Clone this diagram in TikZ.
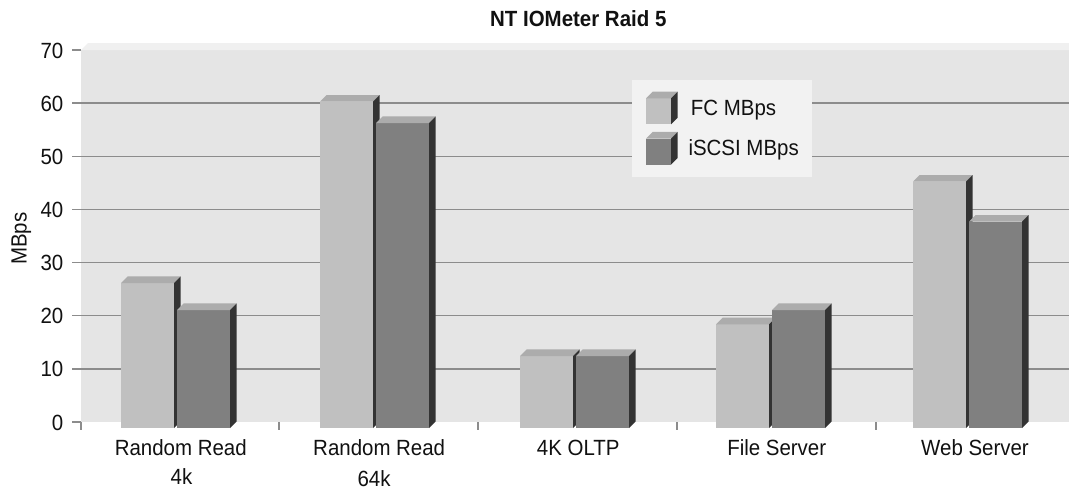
\documentclass[tikz,border=0pt]{standalone}
\usepackage{fontspec}
\setmainfont[FakeStretch=0.93]{Liberation Sans}
\definecolor{wallc}{HTML}{E5E5E5}
\definecolor{walltop}{HTML}{F0F0F0}
\definecolor{gridc}{HTML}{8C8C8C}
\definecolor{fcc}{HTML}{C0C0C0}
\definecolor{isc}{HTML}{808080}
\definecolor{topc}{HTML}{ACACAC}
\definecolor{sidec}{HTML}{333333}
\definecolor{legc}{HTML}{F2F2F2}
\definecolor{txt}{HTML}{111111}
\newcommand\chartbar[3]{%
  \fill[#3] (#1,#2) rectangle ({#1+53},428);
  \fill[topc] (#1,#2) -- ({#1+6.7},{#2-6.7}) -- ({#1+59.7},{#2-6.7}) -- ({#1+53},#2) -- cycle;
  \fill[sidec] ({#1+53},#2) -- ({#1+59.7},{#2-6.7}) -- ({#1+59.7},421.3) -- ({#1+53},428) -- cycle;}
\newcommand\legcube[3]{%
  \fill[#3] (#1,#2) rectangle ({#1+25},{#2+26});
  \fill[topc] (#1,#2) -- ({#1+6.7},{#2-6.7}) -- ({#1+31.7},{#2-6.7}) -- ({#1+25},#2) -- cycle;
  \fill[sidec] ({#1+25},#2) -- ({#1+31.7},{#2-6.7}) -- ({#1+31.7},{#2+19.3}) -- ({#1+25},{#2+26}) -- cycle;}
\begin{document}
\begin{tikzpicture}[x=1pt,y=-1pt,
  lab/.style={font=\fontsize{22}{26}\selectfont, text=txt, inner sep=0pt},
  gridline/.style={draw=gridc, line width=1.4pt},
  tickline/.style={draw=gridc, line width=1.2pt}]
\useasboundingbox (0,0) rectangle (1069,490);
\fill[white] (0,0) rectangle (1069,490);
% wall
\fill[wallc] (81,50) rectangle (1069,422);
\fill[walltop] (81,50) -- (88,43) -- (1069,43) -- (1069,50) -- cycle;
% gridlines, ticks, labels
\foreach \k in {1,...,6} {\draw[gridline] (72,{422-\k*53.14}) -- (1069,{422-\k*53.14});}
\foreach \k in {0,...,7} {
  \pgfmathtruncatemacro\v{10*\k}
  \draw[tickline] (72,{422-\k*53.14}) -- (81,{422-\k*53.14});
  \node[lab, anchor=base east] (yt\k) at (63.5,{430-\k*53.14}) {\v};
}
\foreach \x in {81,279,478,677,876} {\draw[tickline] (\x,422) -- (\x,430);}
% legend
\fill[legc] (632,80) rectangle (812,177);
\legcube{646}{98.3}{fcc}
\legcube{646}{138.5}{isc}
\node[lab, anchor=base west] (lfc) at (690.7,115.7) {FC MBps};
\node[lab, anchor=base west] (lis) at (688.3,155.7) {iSCSI MBps};
% bars
\chartbar{121}{283}{fcc}
\chartbar{177}{310}{isc}
\chartbar{320}{101.7}{fcc}
\chartbar{376}{123}{isc}
\chartbar{520}{356}{fcc}
\chartbar{576}{356}{isc}
\chartbar{716}{324.3}{fcc}
\chartbar{772}{310}{isc}
\chartbar{913}{181.7}{fcc}
\chartbar{969}{221.7}{isc}
% category labels
\node[lab, anchor=base] (c1) at (180.8,455.5) {Random Read};
\node[lab, anchor=base] (c1b) at (181.5,484) {4k};
\node[lab, anchor=base] (c2) at (379.2,455.5) {Random Read};
\node[lab, anchor=base] (c2b) at (374,486) {64k};
\node[lab, anchor=base] (c3) at (578.3,455.5) {4K OLTP};
\node[lab, anchor=base] (c4) at (776.7,455.5) {File Server};
\node[lab, anchor=base] (c5) at (975,455.5) {Web Server};
% title and axis title
\node[lab, anchor=base, font=\fontsize{22}{26}\selectfont\bfseries] (title) at (578.3,26) {NT IOMeter Raid 5};
\node[lab, anchor=base, rotate=90] (ylab) at (26.7,238.7) {MBps};
\end{tikzpicture}
\end{document}
